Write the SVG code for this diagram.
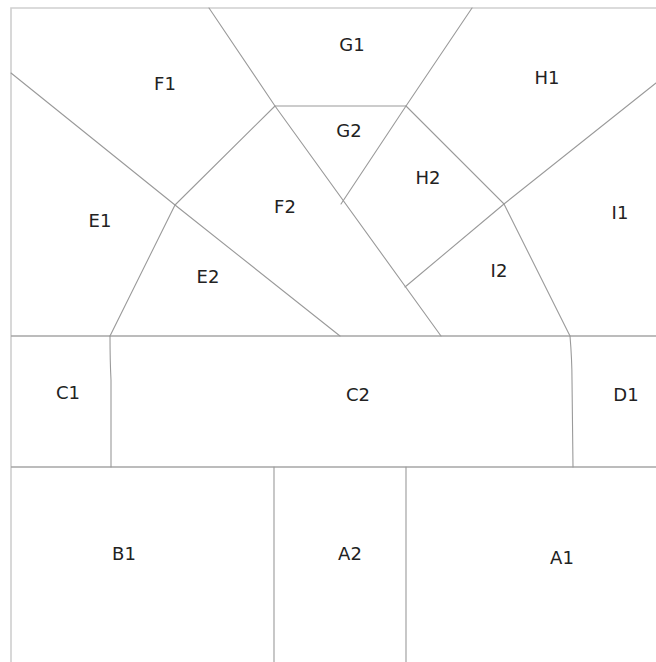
<svg xmlns="http://www.w3.org/2000/svg" width="656" height="662" viewBox="0 0 656 662">
<style>
.bg{fill:#ffffff}
.border{stroke:#cfcfcf;stroke-width:1.6;fill:none}
.edge{stroke:#9a9a9a;stroke-width:1.1;fill:none;stroke-linecap:round}
.hedge{stroke:#a6a6a6;stroke-width:1.5;fill:none}
.lbl{font-family:"DejaVu Sans",Verdana,sans-serif;font-size:18px;fill:#222;text-anchor:middle}
</style>
<rect class="bg" x="0" y="0" width="656" height="662"/>
<g id="connectors">
<path class="border" d="M11,662 L11,8 L656,8"/>
<path class="hedge" d="M11,336 L656,336"/>
<path class="hedge" d="M11,467 L656,467"/>
<path class="edge" d="M11,73 L175,205 L340,336"/>
<path class="edge" d="M209,8 L275,106 L441,336"/>
<path class="edge" d="M275,106 L406,106"/>
<path class="edge" d="M472,8 L406,106 L341,204"/>
<path class="edge" d="M406,106 L504,204 L656,83"/>
<path class="edge" d="M504,204 L405,287"/>
<path class="edge" d="M504,204 L570,336"/>
<path class="edge" d="M175,205 L275,106"/>
<path class="edge" d="M175,205 L110,336"/>
<path class="edge" d="M110,336 Q110,360 111,380 L111,467"/>
<path class="edge" d="M570,336 Q572,360 572,380 L573,467"/>
<path class="edge" d="M274,467 L274,662"/>
<path class="edge" d="M406,467 L406,662"/>
</g>
<g id="F1"><text class="lbl" x="165" y="90">F1</text></g>
<g id="G1"><text class="lbl" x="352" y="51">G1</text></g>
<g id="H1"><text class="lbl" x="547" y="84">H1</text></g>
<g id="G2"><text class="lbl" x="349" y="137">G2</text></g>
<g id="H2"><text class="lbl" x="428" y="184">H2</text></g>
<g id="F2"><text class="lbl" x="285" y="213">F2</text></g>
<g id="E1"><text class="lbl" x="100" y="227">E1</text></g>
<g id="I1"><text class="lbl" x="620" y="219">I1</text></g>
<g id="E2"><text class="lbl" x="208" y="283">E2</text></g>
<g id="I2"><text class="lbl" x="499" y="277">I2</text></g>
<g id="C1"><text class="lbl" x="68" y="399">C1</text></g>
<g id="C2"><text class="lbl" x="358" y="401">C2</text></g>
<g id="D1"><text class="lbl" x="626" y="401">D1</text></g>
<g id="B1"><text class="lbl" x="124" y="560">B1</text></g>
<g id="A2"><text class="lbl" x="350" y="560">A2</text></g>
<g id="A1"><text class="lbl" x="562" y="564">A1</text></g>
</svg>
